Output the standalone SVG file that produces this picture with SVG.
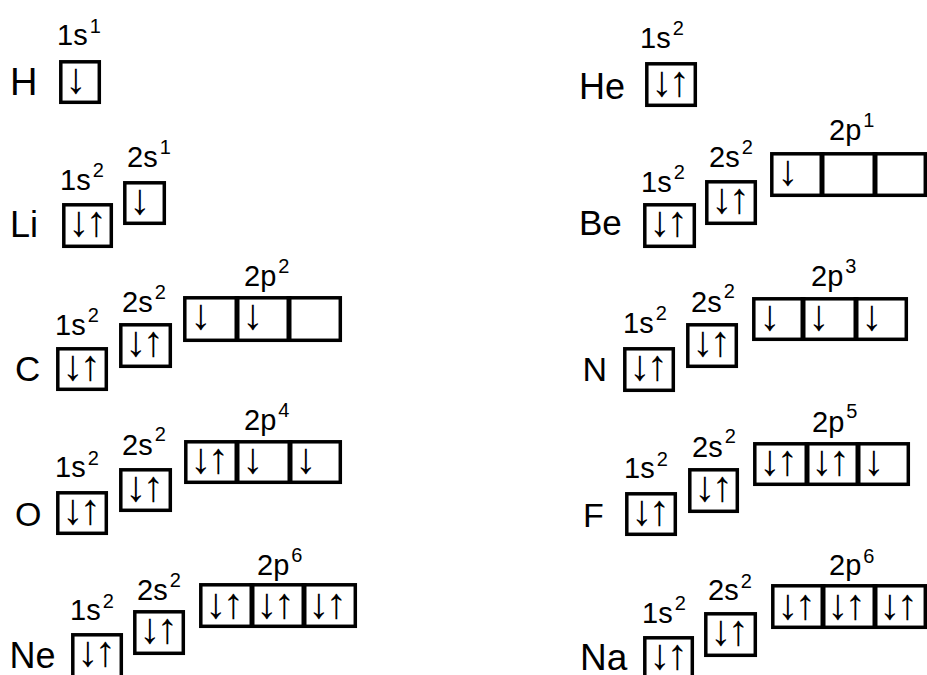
<svg xmlns="http://www.w3.org/2000/svg" width="927" height="675" viewBox="0 0 927 675">
  <style>
    text { font-family: "Liberation Sans", Arial, sans-serif; fill: #000; }
    .sym { font-size: 36px; }
    .lbl { font-size: 29px; }
    .sup { font-size: 20px; }
    .arr { font-size: 43px; letter-spacing: -4px; }
    .box { fill: #fff; stroke: #000; stroke-width: 3.5; }
    .div { stroke: #000; stroke-width: 5; }
  </style>
  <rect width="927" height="675" fill="#fff"/>

  <!-- Hydrogen -->
  <g id="el-H">
    <text class="sym" x="10" y="95" style="font-size:38px">H</text>
    <text class="lbl" x="57" y="45">1s<tspan class="sup" dx="2" dy="-12">1</tspan></text>
    <rect class="box" x="60.8" y="61.8" width="38.5" height="40.5"/>
    <text class="arr" x="65" y="93">↓</text>
  </g>

  <!-- Helium -->
  <g id="el-He">
    <text class="sym" x="579" y="99" style="font-size:36px">He</text>
    <text class="lbl" x="640" y="48">1s<tspan class="sup" dx="2" dy="-13">2</tspan></text>
    <rect class="box" x="646.8" y="63.8" width="48.5" height="41.5"/>
    <text class="arr" x="651" y="96">↓↑</text>
  </g>

  <!-- Lithium -->
  <g id="el-Li">
    <text class="sym" x="10" y="237">Li</text>
    <text class="lbl" x="60" y="190">1s<tspan class="sup" dx="2" dy="-13">2</tspan></text>
    <rect class="box" x="63.8" y="204.8" width="47.5" height="41.5"/>
    <text class="arr" x="68" y="236">↓↑</text>
    <text class="lbl" x="127" y="167">2s<tspan class="sup" dx="2" dy="-13">1</tspan></text>
    <rect class="box" x="124.8" y="182.8" width="39.5" height="40.5"/>
    <text class="arr" x="129" y="214">↓</text>
  </g>

  <!-- Beryllium -->
  <g id="el-Be">
    <text class="sym" x="579" y="235" style="font-size:35px">Be</text>
    <text class="lbl" x="641" y="192">1s<tspan class="sup" dx="2" dy="-13">2</tspan></text>
    <rect class="box" x="644.8" y="204.8" width="49.5" height="41.5"/>
    <text class="arr" x="649" y="236">↓↑</text>
    <text class="lbl" x="709" y="167">2s<tspan class="sup" dx="2" dy="-13">2</tspan></text>
    <rect class="box" x="706.8" y="181.8" width="48.5" height="41.5"/>
    <text class="arr" x="711" y="213">↓↑</text>
    <text class="lbl" x="829" y="140">2p<tspan class="sup" dx="2" dy="-13">1</tspan></text>
    <rect class="box" x="771.8" y="153.8" width="153.5" height="41.5"/>
    <line class="div" x1="822" y1="152" x2="822" y2="197"/>
    <line class="div" x1="875" y1="152" x2="875" y2="197"/>
    <text class="arr" x="777" y="185">↓</text>
  </g>

  <!-- Carbon -->
  <g id="el-C">
    <text class="sym" x="15" y="381" style="font-size:35px">C</text>
    <text class="lbl" x="55" y="335">1s<tspan class="sup" dx="2" dy="-13">2</tspan></text>
    <rect class="box" x="57.8" y="348.8" width="48.5" height="40.5"/>
    <text class="arr" x="62" y="380">↓↑</text>
    <text class="lbl" x="122" y="312">2s<tspan class="sup" dx="2" dy="-13">2</tspan></text>
    <rect class="box" x="120.8" y="324.8" width="49.5" height="41.5"/>
    <text class="arr" x="125" y="356">↓↑</text>
    <text class="lbl" x="244" y="286">2p<tspan class="sup" dx="2" dy="-13">2</tspan></text>
    <rect class="box" x="184.8" y="297.8" width="155.5" height="42.5"/>
    <line class="div" x1="237" y1="296" x2="237" y2="342"/>
    <line class="div" x1="289" y1="296" x2="289" y2="342"/>
    <text class="arr" x="190" y="329">↓</text>
    <text class="arr" x="242" y="329">↓</text>
  </g>

  <!-- Nitrogen -->
  <g id="el-N">
    <text class="sym" x="582.5" y="381" style="font-size:34px">N</text>
    <text class="lbl" x="623" y="333">1s<tspan class="sup" dx="2" dy="-13">2</tspan></text>
    <rect class="box" x="624.8" y="348.8" width="48.5" height="41.5"/>
    <text class="arr" x="629" y="380">↓↑</text>
    <text class="lbl" x="691" y="312">2s<tspan class="sup" dx="2" dy="-14">2</tspan></text>
    <rect class="box" x="687.8" y="324.8" width="48.5" height="41.5"/>
    <text class="arr" x="692" y="356">↓↑</text>
    <text class="lbl" x="811" y="286">2p<tspan class="sup" dx="2" dy="-13">3</tspan></text>
    <rect class="box" x="753.8" y="298.8" width="152.5" height="40.5"/>
    <line class="div" x1="803" y1="297" x2="803" y2="341"/>
    <line class="div" x1="856" y1="297" x2="856" y2="341"/>
    <text class="arr" x="759" y="330">↓</text>
    <text class="arr" x="808" y="330">↓</text>
    <text class="arr" x="861" y="330">↓</text>
  </g>

  <!-- Oxygen -->
  <g id="el-O">
    <text class="sym" x="15" y="526" style="font-size:34px">O</text>
    <text class="lbl" x="55" y="477">1s<tspan class="sup" dx="2" dy="-12">2</tspan></text>
    <rect class="box" x="57.8" y="492.8" width="48.5" height="40.5"/>
    <text class="arr" x="62" y="524">↓↑</text>
    <text class="lbl" x="122" y="455">2s<tspan class="sup" dx="2" dy="-14">2</tspan></text>
    <rect class="box" x="120.8" y="469.8" width="49.5" height="40.5"/>
    <text class="arr" x="125" y="501">↓↑</text>
    <text class="lbl" x="244" y="430">2p<tspan class="sup" dx="2" dy="-13">4</tspan></text>
    <rect class="box" x="185.8" y="441.8" width="154.5" height="40.5"/>
    <line class="div" x1="237" y1="440" x2="237" y2="484"/>
    <line class="div" x1="290" y1="440" x2="290" y2="484"/>
    <text class="arr" x="190" y="473">↓↑</text>
    <text class="arr" x="242" y="473">↓</text>
    <text class="arr" x="295" y="473">↓</text>
  </g>

  <!-- Fluorine -->
  <g id="el-F">
    <text class="sym" x="583" y="527" style="font-size:34px">F</text>
    <text class="lbl" x="624" y="478">1s<tspan class="sup" dx="2" dy="-12">2</tspan></text>
    <rect class="box" x="626.8" y="493.8" width="48.5" height="40.5"/>
    <text class="arr" x="631" y="525">↓↑</text>
    <text class="lbl" x="692" y="457">2s<tspan class="sup" dx="2" dy="-14">2</tspan></text>
    <rect class="box" x="689.8" y="469.8" width="47.5" height="41.5"/>
    <text class="arr" x="694" y="501">↓↑</text>
    <text class="lbl" x="812" y="432">2p<tspan class="sup" dx="2" dy="-14">5</tspan></text>
    <rect class="box" x="754.8" y="443.8" width="153.5" height="40.5"/>
    <line class="div" x1="807" y1="442" x2="807" y2="486"/>
    <line class="div" x1="858" y1="442" x2="858" y2="486"/>
    <text class="arr" x="759" y="475">↓↑</text>
    <text class="arr" x="811" y="475">↓↑</text>
    <text class="arr" x="863" y="475">↓</text>
  </g>

  <!-- Neon -->
  <g id="el-Ne">
    <text class="sym" x="9.5" y="668">Ne</text>
    <text class="lbl" x="70" y="620">1s<tspan class="sup" dx="2" dy="-12">2</tspan></text>
    <rect class="box" x="72.8" y="634.8" width="48.5" height="50"/>
    <text class="arr" x="77" y="666">↓↑</text>
    <text class="lbl" x="137" y="600">2s<tspan class="sup" dx="2" dy="-13">2</tspan></text>
    <rect class="box" x="134.8" y="611.8" width="48.5" height="41.5"/>
    <text class="arr" x="139" y="643">↓↑</text>
    <text class="lbl" x="257" y="575">2p<tspan class="sup" dx="2" dy="-13">6</tspan></text>
    <rect class="box" x="200.8" y="584.8" width="154.5" height="41.5"/>
    <line class="div" x1="252" y1="583" x2="252" y2="628"/>
    <line class="div" x1="304" y1="583" x2="304" y2="628"/>
    <text class="arr" x="205" y="618">↓↑</text>
    <text class="arr" x="256" y="618">↓↑</text>
    <text class="arr" x="308" y="618">↓↑</text>
  </g>

  <!-- Sodium -->
  <g id="el-Na">
    <text class="sym" x="580" y="670" style="font-size:37px">Na</text>
    <text class="lbl" x="642" y="623">1s<tspan class="sup" dx="2" dy="-13">2</tspan></text>
    <rect class="box" x="644.8" y="637.8" width="47.5" height="50"/>
    <text class="arr" x="649" y="669">↓↑</text>
    <text class="lbl" x="708" y="600">2s<tspan class="sup" dx="2" dy="-12">2</tspan></text>
    <rect class="box" x="705.8" y="613.8" width="49.5" height="41.5"/>
    <text class="arr" x="710" y="645">↓↑</text>
    <text class="lbl" x="829" y="575">2p<tspan class="sup" dx="2" dy="-12">6</tspan></text>
    <rect class="box" x="772.8" y="585.8" width="152.5" height="41.5"/>
    <line class="div" x1="823" y1="584" x2="823" y2="629"/>
    <line class="div" x1="875" y1="584" x2="875" y2="629"/>
    <text class="arr" x="777" y="619">↓↑</text>
    <text class="arr" x="827" y="619">↓↑</text>
    <text class="arr" x="879" y="619">↓↑</text>
  </g>
</svg>
